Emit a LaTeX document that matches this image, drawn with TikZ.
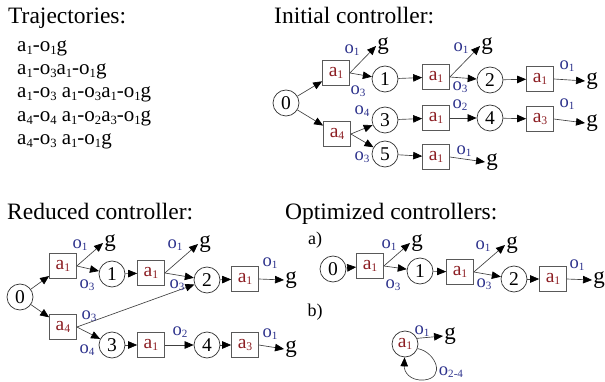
\documentclass[tikz,border=0pt]{standalone}
\usepackage{fontspec}
\setmainfont{Liberation Serif}
\usepackage{graphicx}
\usetikzlibrary{arrows.meta}
\definecolor{acol}{RGB}{140,30,35}
\definecolor{ocol}{RGB}{45,50,140}
\newcommand\sbs[1]{\raisebox{-0.3ex}{\scalebox{0.6}{#1}}}
\newcommand\aact[1]{a\sbs{#1}}
\newcommand\oobs[1]{o\sbs{#1}}
\begin{document}
\begin{tikzpicture}[x=1pt,y=-1pt,
  title/.style={anchor=base west, inner sep=0, font=\fontsize{23.5}{28}\selectfont},
  traj/.style={anchor=base west, inner sep=0, font=\fontsize{21}{24}\selectfont},
  abox/.style={draw=black!65, line width=0.7pt, minimum width=27pt, minimum height=25pt, inner sep=0, text=acol, font=\fontsize{19.5}{20}\selectfont},
  st/.style={circle, draw=black!80, line width=0.7pt, minimum size=26pt, inner sep=0, font=\fontsize{19.5}{20}\selectfont},
  arr/.style={draw=black!75, line width=0.65pt, -{Triangle[length=9pt,width=7.5pt,color=black]}},
  ol/.style={text=ocol, inner sep=0, font=\fontsize{18.5}{20}\selectfont},
  gl/.style={inner sep=1pt, font=\fontsize{23}{24}\selectfont},
  sl/.style={inner sep=0, font=\fontsize{18}{20}\selectfont}]
\useasboundingbox (0,0) rectangle (605,382);

% ---------- Trajectories ----------
\node[title] (ttraj) at (8,24) {Trajectories:};
\node[traj] (t1) at (17,52) {\aact{1}-\oobs{1}g};
\node[traj] (t2) at (17,75) {\aact{1}-\oobs{3}\aact{1}-\oobs{1}g};
\node[traj] (t3) at (17,98) {\aact{1}-\oobs{3} \aact{1}-\oobs{3}\aact{1}-\oobs{1}g};
\node[traj] (t4) at (17,122) {\aact{4}-\oobs{4} \aact{1}-\oobs{2}\aact{3}-\oobs{1}g};
\node[traj] (t5) at (17,145) {\aact{4}-\oobs{3} \aact{1}-\oobs{1}g};

% ---------- Initial controller ----------
\node[title] (tinit) at (274,24) {Initial controller:};
\node[st] (c0) at (286,103) {0};
\node[abox] (IA1) at (336,73) {\aact{1}};
\node[st] (IC1) at (385,79) {1};
\node[abox] (IA1b) at (436,77) {\aact{1}};
\node[st] (IC2) at (490,80) {2};
\node[abox] (IA1c) at (540,79) {\aact{1}};
\node[gl] (Ig1) at (383,46) {g};
\node[gl] (Ig2) at (487,46) {g};
\node[gl] (Ig3) at (592,81) {g};
\node[abox] (IA4) at (337,134) {\aact{4}};
\node[st] (IC3) at (385,120) {3};
\node[abox] (IA1d) at (436,118) {\aact{1}};
\node[st] (IC4) at (490,118) {4};
\node[abox] (IA3) at (540,119) {\aact{3}};
\node[gl] (Ig4) at (592,123) {g};
\node[st] (IC5) at (385,154) {5};
\node[abox] (IA1e) at (436,157) {\aact{1}};
\node[gl] (Ig5) at (492,162) {g};

\draw[arr] (c0) -- (IA1);
\draw[arr] (c0) -- (IA4);
\draw[arr] (IA1.east) -- (Ig1.west);
\draw[arr] (IA1.east) -- (IC1);
\draw[arr] (IC1) -- (IA1b);
\draw[arr] (IA1b.east) -- (Ig2.west);
\draw[arr] (IA1b.east) -- (IC2);
\draw[arr] (IC2) -- (IA1c);
\draw[arr] (IA1c.east) -- (Ig3.west);
\draw[arr] (IA4.east) -- (IC3);
\draw[arr] (IA4.east) -- (IC5);
\draw[arr] (IC3) -- (IA1d);
\draw[arr] (IA1d) -- (IC4);
\draw[arr] (IC4) -- (IA3);
\draw[arr] (IA3.east) -- (Ig4.west);
\draw[arr] (IC5) -- (IA1e);
\draw[arr] (IA1e.east) -- (Ig5.west);

\node[ol] (Io1) at (352,50) {\oobs{1}};
\node[ol] (Io3) at (358,91) {\oobs{3}};
\node[ol] (Io1b) at (461,48) {\oobs{1}};
\node[ol] (Io3b) at (460,87) {\oobs{3}};
\node[ol] (Io1c) at (567,66) {\oobs{1}};
\node[ol] (Io4) at (362,111) {\oobs{4}};
\node[ol] (Io2) at (460,105) {\oobs{2}};
\node[ol] (Io1d) at (567,104) {\oobs{1}};
\node[ol] (Io3c) at (362,157) {\oobs{3}};
\node[ol] (Io1e) at (464,151) {\oobs{1}};

% ---------- Reduced controller ----------
\node[title] (tred) at (7,219) {Reduced controller:};
\node[st] (R0) at (20,297) {0};
\node[abox] (RA1) at (63,266) {\aact{1}};
\node[st] (RC1) at (112,274) {1};
\node[abox] (RA1b) at (151,273) {\aact{1}};
\node[st] (RC2) at (207,280) {2};
\node[abox] (RA1c) at (245,279) {\aact{1}};
\node[gl] (Rg1) at (110,243) {g};
\node[gl] (Rg2) at (205,244) {g};
\node[gl] (Rg3) at (291,280) {g};
\node[abox] (RA4) at (63,327) {\aact{4}};
\node[st] (RC3) at (112,345) {3};
\node[abox] (RA1d) at (151,345) {\aact{1}};
\node[st] (RC4) at (207,345) {4};
\node[abox] (RA3) at (245,345) {\aact{3}};
\node[gl] (Rg4) at (291,349) {g};

\draw[arr] (R0) -- (RA1);
\draw[arr] (R0) -- (RA4);
\draw[arr] (RA1.east) -- (Rg1.west);
\draw[arr] (RA1.east) -- (RC1);
\draw[arr] (RC1) -- (RA1b);
\draw[arr] (RA1b.east) -- (Rg2.west);
\draw[arr] (RA1b.east) -- (RC2);
\draw[arr] (RA4.east) -- (RC2);
\draw[arr] (RC2) -- (RA1c);
\draw[arr] (RA1c.east) -- (Rg3.west);
\draw[arr] (RA4.east) -- (RC3);
\draw[arr] (RC3) -- (RA1d);
\draw[arr] (RA1d) -- (RC4);
\draw[arr] (RC4) -- (RA3);
\draw[arr] (RA3.east) -- (Rg4.west);

\node[ol] (Ro1) at (80,245) {\oobs{1}};
\node[ol] (Ro3) at (87,285) {\oobs{3}};
\node[ol] (Ro1b) at (175,245) {\oobs{1}};
\node[ol] (Ro3b) at (177,285) {\oobs{3}};
\node[ol] (Ro3c) at (89,316) {\oobs{3}};
\node[ol] (Ro4) at (87,350) {\oobs{4}};
\node[ol] (Ro1c) at (270,263) {\oobs{1}};
\node[ol] (Ro2) at (180,332) {\oobs{2}};
\node[ol] (Ro1d) at (270,334) {\oobs{1}};

% ---------- Optimized controllers ----------
\node[title] (topt) at (285,219) {Optimized controllers:};
\node[sl] (la) at (315,240) {a)};
\node[sl] (lb) at (315,312) {b)};
\node[st] (O0) at (333,269) {0};
\node[abox] (OA1) at (370,266) {\aact{1}};
\node[st] (OC1) at (420,271) {1};
\node[abox] (OA1b) at (460,272) {\aact{1}};
\node[st] (OC2) at (514,279) {2};
\node[abox] (OA1c) at (553,279) {\aact{1}};
\node[gl] (Og1) at (417,243) {g};
\node[gl] (Og2) at (512,245) {g};
\node[gl] (Og3) at (599,280) {g};

\draw[arr] (O0) -- (OA1);
\draw[arr] (OA1.east) -- (Og1.west);
\draw[arr] (OA1.east) -- (OC1);
\draw[arr] (OC1) -- (OA1b);
\draw[arr] (OA1b.east) -- (Og2.west);
\draw[arr] (OA1b.east) -- (OC2);
\draw[arr] (OC2) -- (OA1c);
\draw[arr] (OA1c.east) -- (Og3.west);

\node[ol] (Oo1) at (389,245) {\oobs{1}};
\node[ol] (Oo3) at (393,285) {\oobs{3}};
\node[ol] (Oo1b) at (483,246) {\oobs{1}};
\node[ol] (Oo3b) at (484,284) {\oobs{3}};
\node[ol] (Oo1c) at (577,265) {\oobs{1}};

\node[st, text=acol] (B) at (405,344) {\aact{1}};
\node[gl] (Bg) at (450,336) {g};
\draw[arr] (B.25) -- (Bg.west);
\draw[arr] (B.-20) .. controls (436,352) and (446,378) .. (424,380)
  .. controls (410,381) and (404,372) .. (B.-92);
\node[ol] (Bo1) at (422,331) {\oobs{1}};
\node[ol] (Bo24) at (451,372) {\oobs{2-4}};
\end{tikzpicture}
\end{document}
